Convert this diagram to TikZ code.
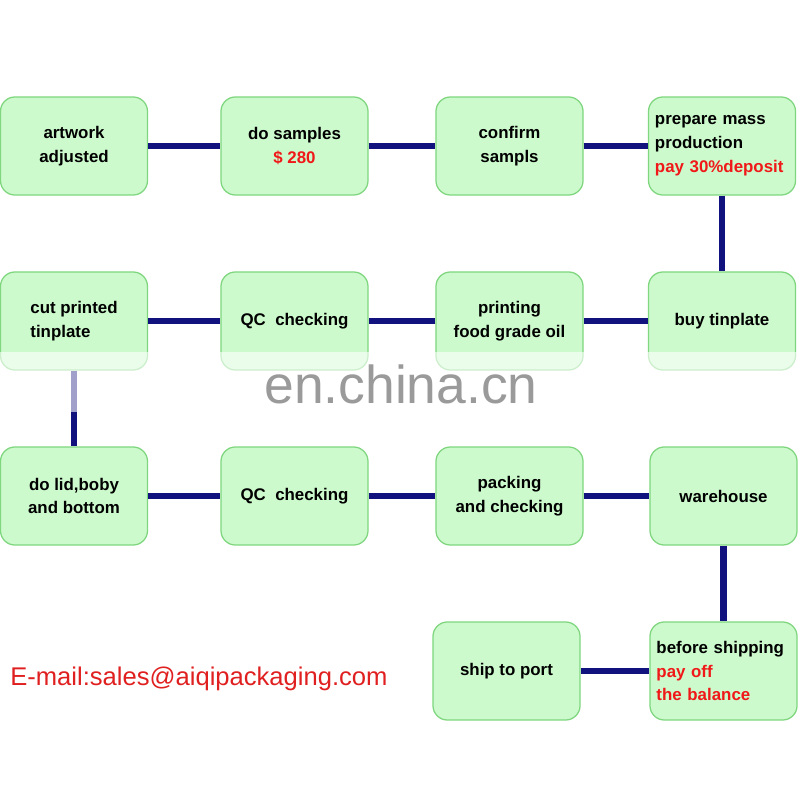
\documentclass[tikz,border=0pt]{standalone}
\usepackage{fontspec}
\setsansfont{Liberation Sans}
\usepackage{xcolor}
\usetikzlibrary{positioning}
\definecolor{StepFill}{HTML}{CCFACC}
\definecolor{StepEdge}{HTML}{7FD67F}
\definecolor{LinkBlue}{HTML}{12127F}
\definecolor{PayRed}{HTML}{F01818}
\definecolor{MailRed}{HTML}{E02020}
\definecolor{MarkGrey}{HTML}{9A9A9A}
\newcommand{\payred}[1]{\textcolor{PayRed}{#1}}

\begin{document}
\begin{tikzpicture}[x=0.025cm,y=-0.025cm,
  stepbox/.style={draw=StepEdge,line width=0.9pt,rounded corners=0.36cm,fill=StepFill,minimum width=3.675cm,minimum height=2.45cm,align=center,font=\sffamily\bfseries\fontsize{12}{17}\selectfont},
  leftbox/.style={stepbox,align=left,text width=3.35cm},
  link/.style={line width=4.3pt,LinkBlue}]
  \useasboundingbox (0,0) rectangle (800,800);
  % row 1
  \node[stepbox] (artwork) at (74,146){artwork\\adjusted};
  \node[stepbox] (samples) at (294.5,146){do samples\\\payred{\$ 280}};
  \node[stepbox] (confirm) at (509.5,146){confirm\\sampls};
  \node[leftbox] (mass) at (722,146){prepare mass\\production\\\payred{pay 30\%deposit}};
  % row 2
  \node[stepbox,align=left] (cut) at (74,321){cut printed\\tinplate};
  \node[stepbox] (qcone) at (294.5,321){QC\ \ checking};
  \node[stepbox] (printing) at (509.5,321){printing\\food grade oil};
  \node[stepbox] (tinplate) at (722,321){buy tinplate};
  % row 3
  \node[stepbox] (lid) at (74,496){do lid,boby\\and bottom};
  \node[stepbox] (qctwo) at (294.5,496){QC\ \ checking};
  \node[stepbox] (packing) at (509.5,496){packing\\and checking};
  \node[stepbox] (warehouse) at (723.5,496){warehouse};
  % row 4
  \node[stepbox] (port) at (506.5,671){ship to port};
  \node[leftbox] (shipping) at (723.5,671){before shipping\\\payred{pay off}\\\payred{the balance}};
  % connectors
  \draw[link] (artwork.east) -- (samples.west);
  \draw[link] (samples.east) -- (confirm.west);
  \draw[link] (confirm.east) -- (mass.west);
  \draw[link] (mass.south) -- (tinplate.north);
  \draw[link] (tinplate.west) -- (printing.east);
  \draw[link] (printing.west) -- (qcone.east);
  \draw[link] (qcone.west) -- (cut.east);
  \draw[link] (cut.south) -- (lid.north);
  \draw[link] (lid.east) -- (qctwo.west);
  \draw[link] (qctwo.east) -- (packing.west);
  \draw[link] (packing.east) -- (warehouse.west);
  \draw[link] (warehouse.south) -- (shipping.north);
  \draw[link] (shipping.west) -- (port.east);
  % watermark band
  \fill[white,opacity=0.6] (0,352) rectangle (800,412);
  \node[anchor=base,text=MarkGrey,font=\sffamily\fontsize{38}{40}\selectfont] (mark) at (401,403){en.china.cn};
  \node[anchor=base west,inner sep=0pt,text=MailRed,font=\sffamily\fontsize{18.2}{20}\selectfont] (email) at (10,685){E-mail:sales@aiqipackaging.com};
\end{tikzpicture}
\end{document}
